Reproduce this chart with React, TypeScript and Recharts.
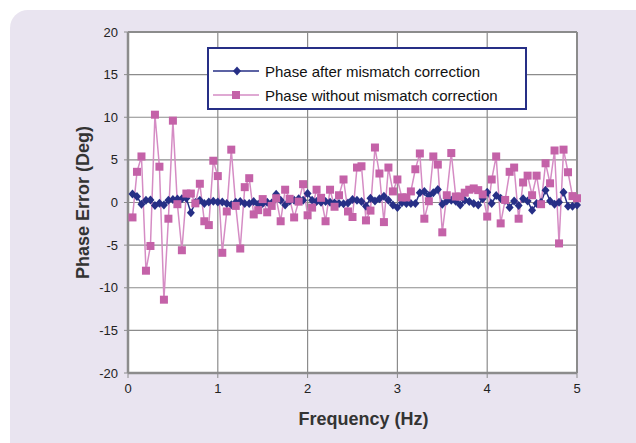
import React from 'react';
import { LineChart, Line, XAxis, YAxis, CartesianGrid, Legend, ReferenceLine } from 'recharts';

const freqs = [
  0.05, 0.1, 0.15, 0.2, 0.25, 0.3, 0.35, 0.4, 0.45, 0.5,
  0.55, 0.6, 0.65, 0.7, 0.75, 0.8, 0.85, 0.9, 0.95, 1.0,
  1.05, 1.1, 1.15, 1.2, 1.25, 1.3, 1.35, 1.4, 1.45, 1.5,
  1.55, 1.6, 1.65, 1.7, 1.75, 1.8, 1.85, 1.9, 1.95, 2.0,
  2.05, 2.1, 2.15, 2.2, 2.25, 2.3, 2.35, 2.4, 2.45, 2.5,
  2.55, 2.6, 2.65, 2.7, 2.75, 2.8, 2.85, 2.9, 2.95, 3.0,
  3.05, 3.1, 3.15, 3.2, 3.25, 3.3, 3.35, 3.4, 3.45, 3.5,
  3.55, 3.6, 3.65, 3.7, 3.75, 3.8, 3.85, 3.9, 3.95, 4.0,
  4.05, 4.1, 4.15, 4.2, 4.25, 4.3, 4.35, 4.4, 4.45, 4.5,
  4.55, 4.6, 4.65, 4.7, 4.75, 4.8, 4.85, 4.9, 4.95, 5.0,
];

const afterCorrection = [
  1.0, 0.7, -0.2, 0.25, 0.3, -0.35, -0.1, -0.3, 0.25, 0.35,
  0.4, 0.45, 0.5, -1.2, 0.0, 0.27, -0.12, 0.07, 0.15, 0.07,
  0.07, -0.12, -0.25, 0.03, 0.11, -0.12, -0.12, 0.11, -0.2, -0.12,
  0.03, -0.05, 0.97, 0.27, -0.28, 0.19, 0.27, 0.43, 0.27, 1.05,
  0.27, 0.11, 0.03, 0.11, 0.03, -0.05, -0.12, -0.15, -0.05, 0.35,
  0.27, 0.11, -0.43, 0.5, 0.19, 0.43, 0.74, 0.27, -0.28, -0.59,
  -0.04, -0.12, -0.12, -0.12, 1.13, 1.29, 0.82, 1.13, 1.52, -0.2,
  0.19, 0.25, 0.15, -0.3, 0.27, 0.11, -0.12, -0.28, 0.43, 1.2,
  -0.12, 0.82, 0.5, 0.27, -0.59, 0.19, -0.35, 0.43, 0.19, -0.9,
  -0.12, 0.03, 1.44, 0.19, -0.2, 0.03, 1.2, -0.43, -0.43, -0.3,
];

const withoutCorrection = [
  -1.75, 3.6, 5.4, -8.0, -5.1, 10.3, 4.2, -11.4, -1.9, 9.6,
  -0.2, -5.6, 1.05, 1.05, -0.1, 2.2, -2.2, -2.65, 4.9, 3.1,
  -5.9, -1.05, 6.2, -0.4, -5.4, 1.8, 2.85, -1.4, -0.9, 0.4,
  -1.15, -0.4, 0.5, -2.2, 1.5, 0.43, -1.75, 0.1, 2.15, -1.5,
  -0.6, 1.5, 0.55, -2.2, 1.5, -0.5, 0.85, 2.7, -1.05, -1.7,
  4.1, 4.25, -2.1, -0.95, 6.45, 3.4, -2.3, 4.1, 1.3, 2.7,
  0.6, 0.6, 1.3, 3.9, 5.75, -1.9, 0.15, 5.4, 4.45, -3.5,
  0.85, 5.8, 0.7, 0.7, 1.15, 1.5, 1.65, 1.45, 0.95, -1.65,
  2.7, 5.4, -2.45, 0.3, 3.6, 4.1, -1.9, 2.35, 3.15, 0.85,
  3.15, -0.2, 4.6, 2.25, 6.1, -4.8, 6.2, 3.55, 0.75, 0.5,
];

const xTicks = [0, 1, 2, 3, 4, 5];
const yTicks = [-20, -15, -10, -5, 0, 5, 10, 15, 20];
const seriesNames = ['Phase after mismatch correction', 'Phase without mismatch correction'];

const data = freqs.map((f, i) => ({ f, after: afterCorrection[i], without: withoutCorrection[i] }));

const BLUE = '#262f86';
const PINK = '#c462a8';
const PINK_LINE = '#d58cc4';
const GRID = '#8c8c8c';
const FONT = '"Liberation Sans", Arial, sans-serif';
const TITLE_FONT = '"Liberation Sans Narrow", "Arial Narrow", "Liberation Sans", Arial, sans-serif';

const Diamond = (props: any) => {
  const { cx, cy, index } = props;
  if (cx == null || cy == null) return <g key={index} />;
  return (
    <path
      key={index}
      d={`M${cx},${cy - 4.5}L${cx + 4},${cy}L${cx},${cy + 4.5}L${cx - 4},${cy}Z`}
      fill={BLUE}
    />
  );
};

const Square = (props: any) => {
  const { cx, cy, index } = props;
  if (cx == null || cy == null) return <g key={index} />;
  return <rect key={index} x={cx - 4} y={cy - 4} width={8} height={8} fill={PINK} />;
};

const LegendContent = () => (
  <svg width={316} height={59} style={{ display: 'block' }}>
    <line x1={4} y1={22} x2={50} y2={22} stroke={BLUE} strokeWidth={1.5} />
    <path d="M28,17.5L32,22L28,26.5L24,22Z" fill={BLUE} />
    <text x={56} y={27.5} fontSize={15} fontFamily={FONT} fill="#111">{seriesNames[0]}</text>
    <line x1={4} y1={46} x2={50} y2={46} stroke={PINK_LINE} strokeWidth={1.5} />
    <rect x={23} y={42} width={8} height={8} fill={PINK} />
    <text x={56} y={51.5} fontSize={15} fontFamily={FONT} fill="#111">{seriesNames[1]}</text>
  </svg>
);

export default function App() {
  return (
    <div style={{ position: 'absolute', left: 0, top: 0, width: 636, height: 443, background: '#fff', overflow: 'hidden' }}>
      <div style={{ position: 'absolute', left: 10, top: 10, width: 680, height: 480, background: '#e9e4f0', borderRadius: 18 }} />
      <div style={{ position: 'absolute', left: 0, top: 0 }}>
        <LineChart width={636} height={443} data={data} margin={{ top: 32, right: 59, bottom: 40, left: 68 }}>
          <CartesianGrid stroke={GRID} strokeWidth={1.2} fill="#fff" fillOpacity={1} />
          <XAxis
            dataKey="f"
            type="number"
            domain={[0, 5]}
            ticks={xTicks}
            interval={0}
            height={30}
            axisLine={{ stroke: GRID, strokeWidth: 2.5 }}
            tickLine={{ stroke: GRID, strokeWidth: 1 }}
            tickSize={5}
            tickMargin={6}
            tick={{ fill: '#222', fontSize: 13, fontFamily: FONT }}
            label={{ value: 'Frequency (Hz)', position: 'bottom', offset: 9, dx: 11, fill: '#333', fontSize: 18, fontWeight: 'bold', fontFamily: TITLE_FONT }}
          />
          <YAxis
            type="number"
            domain={[-20, 20]}
            ticks={yTicks}
            interval={0}
            width={60}
            axisLine={{ stroke: GRID, strokeWidth: 2.5 }}
            tickLine={{ stroke: GRID, strokeWidth: 1 }}
            tickSize={4}
            tickMargin={6}
            tick={{ fill: '#222', fontSize: 13, fontFamily: FONT }}
            label={{ value: 'Phase Error (Deg)', angle: -90, position: 'center', dx: -15, fill: '#333', fontSize: 18, fontWeight: 'bold', fontFamily: TITLE_FONT }}
          />
          <ReferenceLine y={20} stroke={GRID} strokeWidth={2} />
          <ReferenceLine x={5} stroke={GRID} strokeWidth={2} />
          <Legend
            layout="horizontal"
            verticalAlign="middle"
            align="center"
            content={<LegendContent />}
            wrapperStyle={{ position: 'absolute', left: 207, top: 47, width: 316, height: 59, border: `2.5px solid ${BLUE}`, background: '#fff', boxSizing: 'content-box', bottom: 'auto', right: 'auto' }}
          />
          <Line
            dataKey="after"
            name={seriesNames[0]}
            stroke={BLUE}
            strokeWidth={1.5}
            dot={Diamond}
            activeDot={false}
            isAnimationActive={false}
          />
          <Line
            dataKey="without"
            name={seriesNames[1]}
            stroke={PINK_LINE}
            strokeWidth={1.5}
            dot={Square}
            activeDot={false}
            isAnimationActive={false}
          />
        </LineChart>
      </div>
    </div>
  );
}
